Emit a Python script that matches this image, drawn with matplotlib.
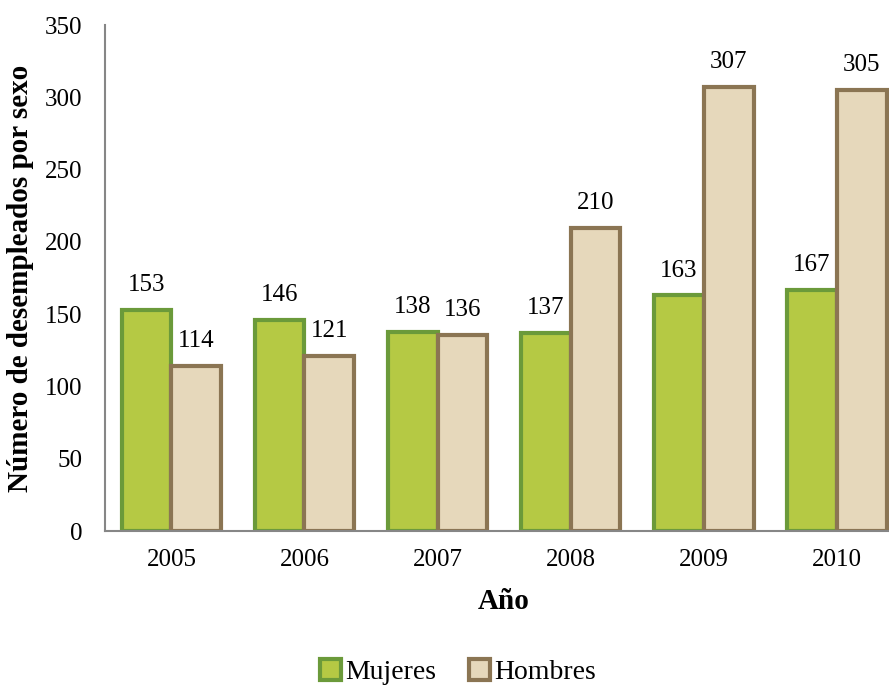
import matplotlib
matplotlib.use("Agg")
import matplotlib.pyplot as plt
import numpy as np

years = ["2005", "2006", "2007", "2008", "2009", "2010"]
mujeres = [153, 146, 138, 137, 163, 167]
hombres = [114, 121, 136, 210, 307, 305]
yticks = [0, 50, 100, 150, 200, 250, 300, 350]

plt.rcParams['font.family'] = ['Liberation Serif', 'DejaVu Serif']

fig = plt.figure(figsize=(8.89, 6.88), dpi=100)
ax = fig.add_axes([0.118, 0.228, 0.898, 0.7355])

x = np.arange(len(years))
w = 0.375
b1 = ax.bar(x - w/2, mujeres, w, color='#b5c944', edgecolor='#6b9a3a', linewidth=3, label='Mujeres')
b2 = ax.bar(x + w/2, hombres, w, color='#e6d8bb', edgecolor='#8b7553', linewidth=3, label='Hombres')

for bars, vals in ((b1, mujeres), (b2, hombres)):
    for r, v in zip(bars, vals):
        ax.annotate(str(v), (r.get_x() + r.get_width()/2, v), xytext=(0, 10),
                    textcoords='offset points', ha='center', va='bottom', fontsize=18)

ax.set_xlim(-0.5, len(years) - 0.5)
ax.set_ylim(0, 350)
ax.set_yticks(yticks)
ax.set_xticks(x)
ax.set_xticklabels(years)
ax.tick_params(axis='y', length=0, labelsize=18, pad=16)
ax.tick_params(axis='x', length=0, labelsize=18, pad=13)
for s in ('top', 'right'):
    ax.spines[s].set_visible(False)
for s in ('left', 'bottom'):
    ax.spines[s].set_color('#868686')
    ax.spines[s].set_linewidth(1.5)

ax.set_xlabel('Año', fontsize=21, fontweight='bold', labelpad=12)
ax.set_ylabel('Número de desempleados por sexo', fontsize=21, fontweight='bold', labelpad=8)

fig.legend(handles=[b1, b2], loc='center', bbox_to_anchor=(0.515, 0.023), ncol=2, frameon=False,
           fontsize=20, handlelength=0.75, handleheight=0.75, handletextpad=0.15, columnspacing=1.2)

fig.savefig('out.png', dpi=100)
